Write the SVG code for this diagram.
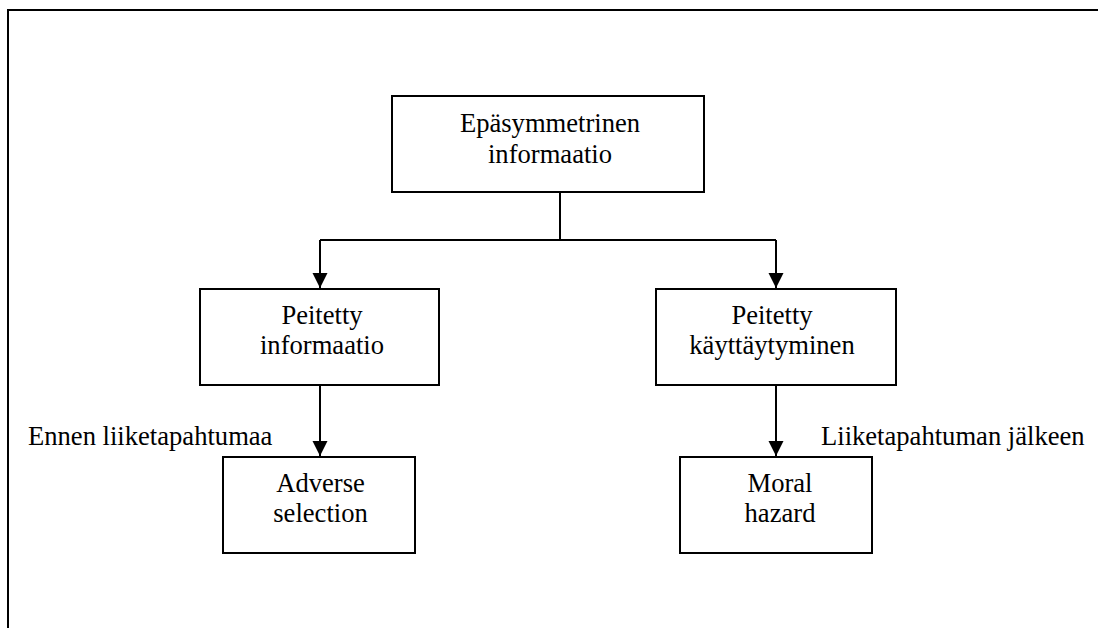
<svg xmlns="http://www.w3.org/2000/svg" width="1098" height="628" viewBox="0 0 1098 628">
<style>
.box{fill:#fff;stroke:#000;stroke-width:2}
.ln{fill:none;stroke:#000;stroke-width:2}
text{font-family:"Liberation Serif","Times New Roman",serif;font-size:26.6px;fill:#000}
.c{text-anchor:middle}
</style>
<defs>
<marker id="arr" markerUnits="userSpaceOnUse" markerWidth="16" markerHeight="16" viewBox="0 0 16 16" refX="15" refY="8" orient="auto">
<path d="M0,0.5 L15,8 L0,15.5 Z" fill="#000"/>
</marker>
</defs>
<rect width="1098" height="628" fill="#fff"/>
<g id="frame"><path class="ln" d="M8,628 V10 H1098"/></g>
<g id="connectors">
<path class="ln" d="M560,192 V240"/>
<path class="ln" d="M320,240 H776"/>
<path class="ln" d="M320,240 V288" marker-end="url(#arr)"/>
<path class="ln" d="M776,240 V288" marker-end="url(#arr)"/>
<path class="ln" d="M320,385 V456" marker-end="url(#arr)"/>
<path class="ln" d="M776,385 V456" marker-end="url(#arr)"/>
</g>
<g id="n-top"><rect class="box" x="392" y="96" width="312" height="96"/>
<text class="c" x="550" y="131.5">Epäsymmetrinen</text><text class="c" x="550" y="162.5">informaatio</text></g>
<g id="n-pi"><rect class="box" x="200" y="289" width="239" height="96"/>
<text class="c" x="322" y="324.3">Peitetty</text><text class="c" x="322" y="354.3">informaatio</text></g>
<g id="n-pk"><rect class="box" x="656" y="289" width="240" height="96"/>
<text class="c" x="772" y="324.3">Peitetty</text><text class="c" x="772" y="354.3">käyttäytyminen</text></g>
<g id="n-as"><rect class="box" x="223" y="457" width="192" height="96"/>
<text class="c" x="320.5" y="492">Adverse</text><text class="c" x="320.5" y="521.7">selection</text></g>
<g id="n-mh"><rect class="box" x="680" y="457" width="192" height="96"/>
<text class="c" x="780" y="491.7">Moral</text><text class="c" x="780" y="521.7">hazard</text></g>
<g id="labels">
<text x="28" y="445">Ennen liiketapahtumaa</text>
<text x="821" y="445">Liiketapahtuman jälkeen</text>
</g>
</svg>
